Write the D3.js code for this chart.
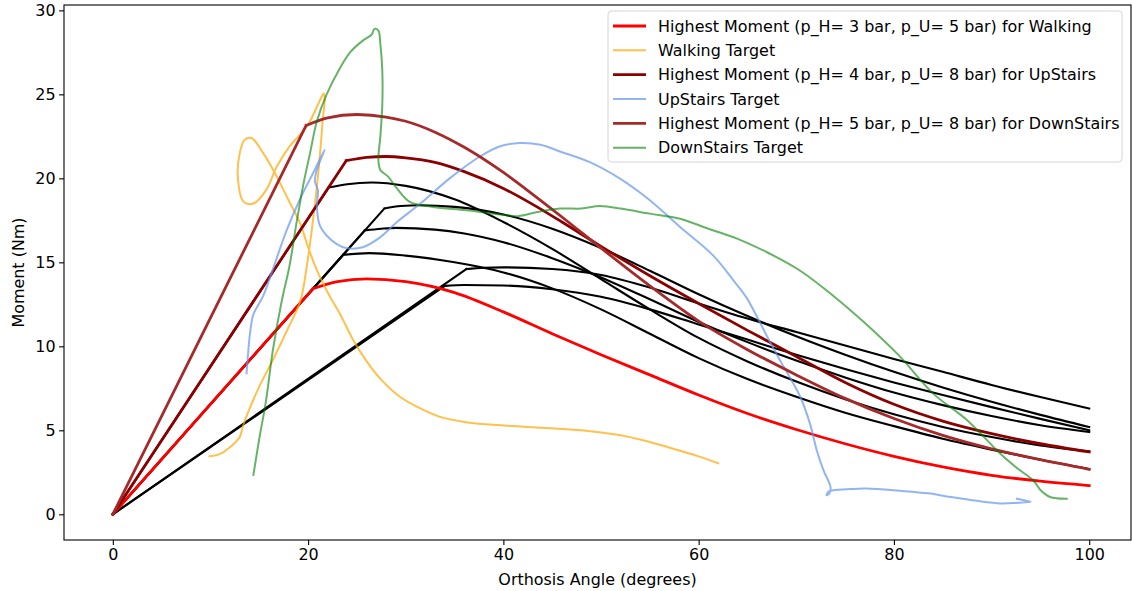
<!DOCTYPE html>
<html>
<head>
<meta charset="utf-8">
<script src="https://cdn.jsdelivr.net/npm/d3@7"></script>
<style>
  body { margin: 0; background: #fff; }
  svg { display: block; }
  text { font-family: "DejaVu Sans", sans-serif; }
</style>
</head>
<body>
<svg id="chart" width="1132" height="591"></svg>
<script>
// Axis ticks
const xTicks = [0, 20, 40, 60, 80, 100];
const yTicks = [0, 5, 10, 15, 20, 25, 30];

// Moment curves of the remaining pressure combinations: [angle, moment]
const blackA = [[0,0],[22.1,19.45],[24,19.65],[26.5,19.75],[30,19.55],[35,18.75],[40,17.4],[45,15.8],[50,14.0],[55,12.2],[60,10.5],[65,9.1],[70,7.9],[75,6.85],[80,5.95],[85,5.2],[90,4.6],[95,4.1],[100,3.75]];
const blackB = [[0,0],[27.8,18.2],[29.5,18.35],[31.5,18.4],[35,18.3],[40,17.85],[45,17.0],[50,15.85],[55,14.5],[60,13.1],[65,11.8],[70,10.6],[75,9.5],[80,8.48],[85,7.55],[90,6.7],[95,5.92],[100,5.2]];
const blackC = [[0,0],[25.8,16.9],[27.5,17.0],[29,17.05],[33,16.95],[36,16.72],[40,16.2],[45,15.25],[50,14.1],[55,12.8],[60,11.45],[65,10.25],[70,9.15],[75,8.15],[80,7.25],[85,6.5],[90,5.85],[95,5.3],[100,4.9]];
const blackD = [[0,0],[23.6,15.45],[26.3,15.55],[30,15.4],[35,15.0],[40,14.4],[45,13.45],[50,12.2],[55,10.75],[60,9.3],[65,8.05],[70,7.0],[75,6.05],[80,5.25],[85,4.5],[90,3.85],[95,3.25],[100,2.7]];
const blackE = [[0,0],[36.2,14.6],[38,14.68],[40,14.7],[45,14.6],[50,14.25],[55,13.5],[60,12.55],[65,11.65],[70,10.85],[75,10.05],[80,9.25],[85,8.48],[90,7.7],[95,6.98],[100,6.3]];
const blackF = [[0,0],[34,13.6],[36,13.65],[40,13.62],[45,13.4],[50,12.95],[55,12.2],[60,11.3],[65,10.4],[70,9.5],[75,8.65],[80,7.85],[85,7.1],[90,6.38],[95,5.68],[100,5.0]];

// Highest moment curves per activity
const walkingHighest = [[0,0],[20.5,13.43],[23,13.85],[26,14.02],[30,13.85],[35,13.2],[40,12.05],[45,10.75],[50,9.5],[55,8.3],[60,7.1],[65,6.0],[70,5.05],[75,4.2],[80,3.45],[85,2.82],[90,2.32],[95,1.97],[100,1.71]];
const upStairsHighest = [[0,0],[23.9,21.05],[26,21.25],[28,21.3],[30,21.22],[33,20.95],[36,20.4],[40,19.4],[43,18.45],[46,17.4],[50,15.95],[55,14.2],[60,12.55],[65,10.95],[70,9.4],[75,7.85],[80,6.55],[85,5.55],[90,4.8],[95,4.2],[100,3.71]];
const downStairsHighest = [[0,0],[19.8,23.15],[22,23.6],[25,23.8],[28,23.65],[30,23.4],[33,22.75],[36,21.85],[40,20.35],[43,19.05],[46,17.7],[50,15.85],[55,13.6],[60,11.5],[65,9.8],[70,8.3],[75,6.9],[80,5.7],[85,4.7],[90,3.9],[95,3.25],[100,2.68]];

// Target moment traces per activity
const walkingTarget = [[9.9,3.45],[11.0,3.6],[12.2,4.1],[13.0,4.6],[13.3,5.2],[13.8,6.0],[15.0,7.6],[16.4,9.2],[17.8,10.9],[19.2,12.7],[19.9,14.9],[20.5,17.5],[20.9,19.5],[21.3,22.0],[21.5,23.5],[21.7,24.7],[21.6,25.05],[21.1,24.5],[20.0,23.2],[19.0,22.5],[18.1,21.9],[16.8,20.7],[15.7,19.3],[14.4,18.5],[13.4,18.6],[12.8,20.1],[13.0,21.5],[13.5,22.3],[14.2,22.4],[15.4,21.5],[16.8,20.1],[18.0,18.7],[19.2,17.3],[20.0,15.9],[21.0,14.4],[22.2,13.0],[23.3,11.9],[24.5,10.5],[26.0,9.1],[27.5,8.0],[29.4,7.0],[31.5,6.3],[33.5,5.8],[36,5.5],[39.7,5.3],[44,5.15],[48,5.0],[52,4.7],[55,4.3],[58,3.8],[60,3.45],[62,3.04]];
const upStairsTarget = [[13.7,8.4],[13.9,9.9],[14.1,11.0],[14.4,11.9],[15.4,13.0],[16.4,14.6],[17.8,16.9],[19.2,18.8],[20.5,20.3],[21.0,20.9],[21.7,21.7],[21.2,21.0],[20.8,20.3],[20.7,19.8],[21.0,19.3],[20.9,18.3],[21.2,17.2],[21.9,16.6],[22.9,16.1],[23.9,15.85],[25.6,15.9],[27.4,16.5],[29.1,17.4],[31.5,18.5],[34.5,20.0],[37.6,21.3],[39.6,21.9],[41.7,22.1],[43.8,22.0],[45.8,21.6],[48.9,20.95],[51.9,20.0],[55,18.7],[58.1,17.1],[61.5,15.4],[63.6,13.9],[64.9,12.9],[67,10.6],[68.3,9.2],[70.4,7.0],[71.4,5.4],[72.1,3.8],[72.8,2.6],[73.5,1.63],[73.4,1.25],[73.1,1.13],[73.3,1.35],[73.8,1.43],[75.5,1.5],[77.2,1.53],[80.6,1.4],[83.5,1.25],[85.8,1.03],[88.5,0.8],[90.9,0.65],[92.5,0.68],[94,0.75],[93.2,0.85],[92.6,0.93]];
const downStairsTarget = [[14.4,2.35],[15.0,4.5],[15.7,6.8],[16.4,9.8],[17.3,12.7],[18.1,14.8],[18.8,17.3],[19.5,19.6],[20.2,21.5],[20.9,23.4],[21.9,25.0],[23.3,26.6],[24.3,27.5],[25.6,28.2],[26.5,28.55],[26.8,28.9],[27.2,28.8],[27.4,28.0],[27.6,26.4],[27.6,24.4],[27.4,22.5],[27.2,21.1],[27.4,20.5],[28.2,20.1],[29.1,19.4],[30.4,18.6],[32.8,18.3],[36.2,18.1],[39.7,17.85],[41.5,17.75],[43.5,18.0],[45.8,18.2],[48,18.2],[49.9,18.35],[52,18.2],[55,17.9],[58.1,17.6],[61,17.0],[64,16.4],[67,15.6],[70.4,14.5],[73.8,13.0],[77,11.4],[80.6,9.4],[84,7.2],[87.5,5.6],[90.9,3.6],[92.5,2.8],[94.3,2.0],[95,1.45],[96,1.03],[97.7,0.93]];

const legendLabels = [
  "Highest Moment (p_H= 3 bar, p_U= 5 bar) for Walking",
  "Walking Target",
  "Highest Moment (p_H= 4 bar, p_U= 8 bar) for UpStairs",
  "UpStairs Target",
  "Highest Moment (p_H= 5 bar, p_U= 8 bar) for DownStairs",
  "DownStairs Target"
];

const FONT = "15.95px";
const svg = d3.select("#chart");
const plotLeft = 64, plotRight = 1131, plotTop = 5, plotBottom = 540;

const x = d3.scaleLinear().domain([-5, 104.28]).range([plotLeft, plotRight]);
const y = d3.scaleLinear().domain([-1.53, 30.32]).range([plotBottom, plotTop]);

svg.append("defs").append("clipPath").attr("id", "plotClip")
  .append("rect").attr("x", plotLeft).attr("y", plotTop)
  .attr("width", plotRight - plotLeft).attr("height", plotBottom - plotTop);

const plot = svg.append("g").attr("clip-path", "url(#plotClip)");

const linear = d3.line().x(d => x(d[0])).y(d => y(d[1])).curve(d3.curveLinear);
const smooth = d3.line().x(d => x(d[0])).y(d => y(d[1])).curve(d3.curveMonotoneX);
const trace = d3.line().x(d => x(d[0])).y(d => y(d[1])).curve(d3.curveCatmullRom.alpha(0.5));

// A moment curve: straight rise up to the knee, smooth fall after it
function momentPath(pts) {
  return linear(pts.slice(0, 2)) + smooth(pts.slice(1));
}

function drawMoment(pts, color, width) {
  plot.append("path").attr("d", momentPath(pts))
    .attr("fill", "none").attr("stroke", color).attr("stroke-width", width)
    .attr("stroke-linejoin", "round").attr("stroke-linecap", "square");
}
function drawTarget(pts, color, opacity) {
  plot.append("path").attr("d", trace(pts))
    .attr("fill", "none").attr("stroke", color).attr("stroke-width", 2)
    .attr("stroke-opacity", opacity).attr("stroke-linejoin", "round").attr("stroke-linecap", "square");
}

[blackA, blackB, blackC, blackD, blackE, blackF].forEach(c => drawMoment(c, "#000", 2.1));

const series = [
  {kind: "m", data: walkingHighest, color: "#ff0000", width: 2.8, op: 1},
  {kind: "t", data: walkingTarget, color: "orange", width: 2, op: 0.7},
  {kind: "m", data: upStairsHighest, color: "#8b0000", width: 2.8, op: 1},
  {kind: "t", data: upStairsTarget, color: "cornflowerblue", width: 2, op: 0.7},
  {kind: "m", data: downStairsHighest, color: "#a52a2a", width: 2.8, op: 1},
  {kind: "t", data: downStairsTarget, color: "green", width: 2, op: 0.6}
];
series.forEach(s => {
  if (s.kind === "m") drawMoment(s.data, s.color, s.width);
  else drawTarget(s.data, s.color, s.op);
});

// Axes
const xAxis = svg.append("g").attr("transform", `translate(0,${plotBottom})`)
  .call(d3.axisBottom(x).tickValues(xTicks).tickSize(4.9).tickPadding(3.5).tickFormat(d3.format("d")));
const yAxis = svg.append("g").attr("transform", `translate(${plotLeft},0)`)
  .call(d3.axisLeft(y).tickValues(yTicks).tickSize(4.9).tickPadding(3.5).tickFormat(d3.format("d")));
[xAxis, yAxis].forEach(a => {
  a.select(".domain").remove();
  a.selectAll(".tick line").attr("stroke", "#000").attr("stroke-width", 1.1);
  a.selectAll(".tick text").attr("fill", "#000").style("font-size", FONT)
    .style("font-family", "'DejaVu Sans', sans-serif");
});

svg.append("rect").attr("x", plotLeft).attr("y", plotTop)
  .attr("width", plotRight - plotLeft).attr("height", plotBottom - plotTop)
  .attr("fill", "none").attr("stroke", "#000").attr("stroke-width", 1.1);

svg.append("text").attr("x", (plotLeft + plotRight) / 2).attr("y", 585).attr("text-anchor", "middle")
  .style("font-size", FONT).text("Orthosis Angle (degrees)");
svg.append("text").attr("transform", `translate(24,${(plotTop + plotBottom) / 2}) rotate(-90)`)
  .attr("text-anchor", "middle").style("font-size", FONT).text("Moment (Nm)");

// Legend
const lg = svg.append("g");
lg.append("rect").attr("x", 608).attr("y", 11).attr("width", 514).attr("height", 151).attr("rx", 3.5)
  .attr("fill", "#fff").attr("fill-opacity", 0.8).attr("stroke", "#d4d4d4").attr("stroke-width", 1);
series.forEach((s, i) => {
  const cy = 26 + i * 24.35;
  lg.append("line").attr("x1", 613).attr("x2", 646).attr("y1", cy).attr("y2", cy)
    .attr("stroke", s.color).attr("stroke-width", s.width).attr("stroke-opacity", s.op);
  lg.append("text").attr("x", 658).attr("y", cy).attr("dy", "0.36em")
    .style("font-size", FONT).attr("fill", "#000").text(legendLabels[i]);
});
</script>
</body>
</html>
